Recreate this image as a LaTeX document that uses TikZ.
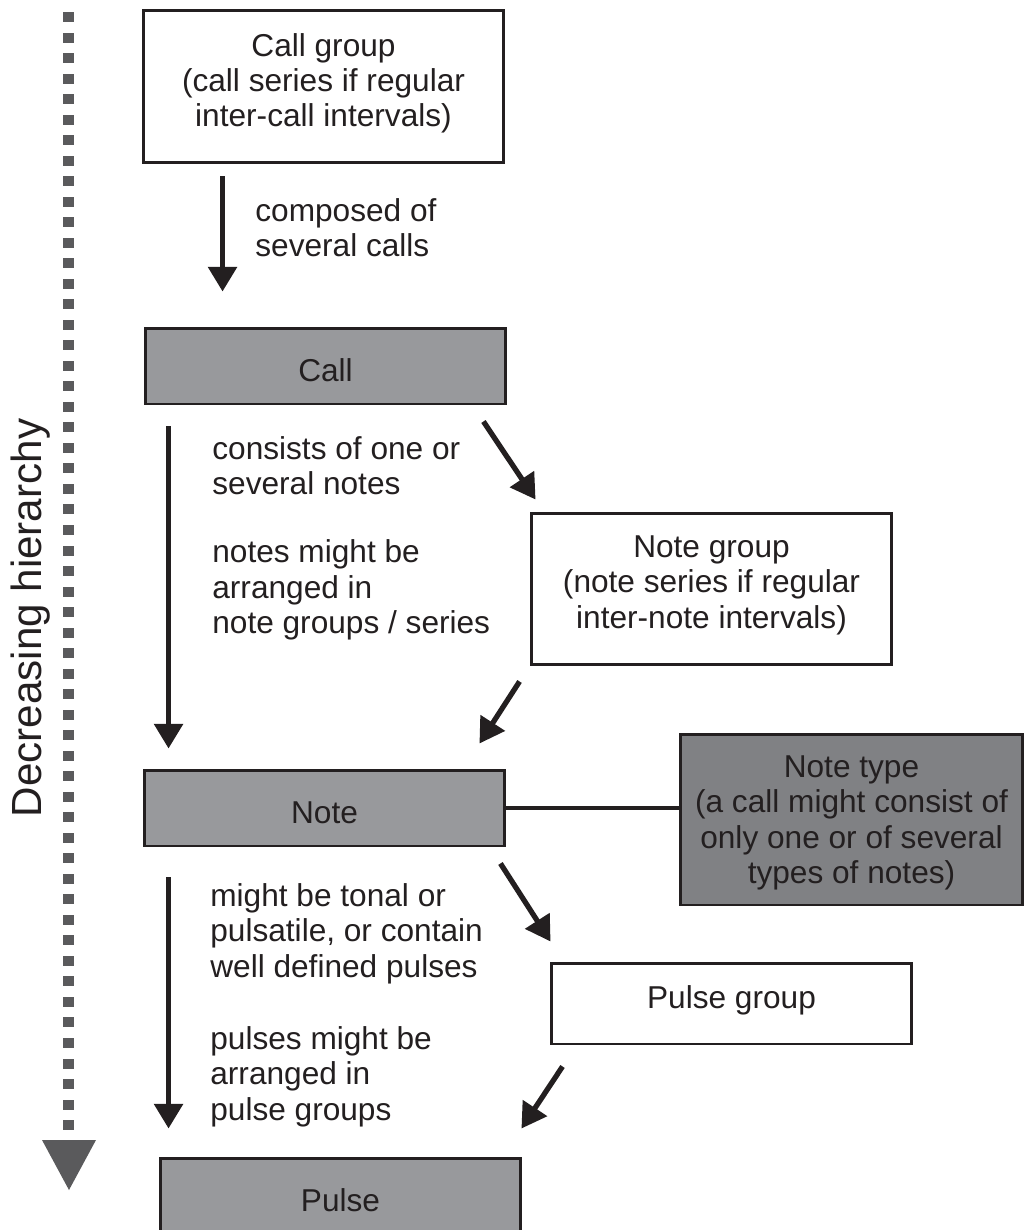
\documentclass[tikz,border=0pt]{standalone}
\usepackage{fontspec}
\setmainfont{Liberation Sans}
\usetikzlibrary{arrows.meta,positioning,calc}
\definecolor{ink}{HTML}{231F20}
\definecolor{boxgrey}{HTML}{98999C}
\definecolor{darkgrey}{HTML}{808184}
\definecolor{dotgrey}{HTML}{5A5A5C}

\begin{document}
\begin{tikzpicture}[x=0.02cm,y=-0.02cm,
    font=\fontsize{18}{20.1}\selectfont, text=ink,
    box/.style={draw=ink,line width=1.7pt,fill=white,align=center,inner sep=0pt,minimum width=7.22cm},
    greybox/.style={box,fill=boxgrey,text height=0.6cm,text depth=0pt},
    darkbox/.style={box,fill=darkgrey},
    arr/.style={draw=ink,line width=3pt,-{Triangle[width=16pt,length=14pt]}},
    lbl/.style={anchor=west,align=left,inner sep=0pt}]
    \useasboundingbox (0,0) rectangle (1027,1230);

    % hierarchy arrow on the left
    \foreach \i in {0,...,54}
        \fill[dotgrey] (63,{12+\i*20.52}) rectangle ++(11,10);
    \fill[dotgrey] (42,1140) -- (96,1140) -- (69,1190) -- cycle;
    \node[rotate=90,font=\fontsize{24}{28}\selectfont] (hier) at (31,618) {Decreasing hierarchy};

    % boxes
    \node[box,minimum height=3.06cm,text depth=0.26cm] (callgroup) at (323.5,86.5)
        {Call group\\(call series if regular\\inter-call intervals)};
    \node[greybox,minimum height=1.52cm] (call) at (325.5,366) {Call};
    \node[box,minimum height=3.04cm,text depth=0.28cm] (notegroup) at (711.5,589)
        {Note group\\(note series if regular\\inter-note intervals)};
    \node[greybox,minimum height=1.52cm] (note) at (324.5,808) {Note};
    \node[darkbox,minimum width=6.86cm,minimum height=3.42cm,text depth=0pt] (notetype) at (851.5,819.5)
        {Note type\\(a call might consist of\\only one or of several\\types of notes)};
    \node[box,minimum height=1.62cm,text depth=0.25cm] (pulsegroup) at (731.5,1003.5) {Pulse group};
    \node[greybox,minimum height=1.52cm] (pulse) at (340.5,1196) {Pulse};

    % connectors
    \draw[arr] ($(callgroup.south west)+(81,12)$) -- ($(call.north west)+(79,-35)$);
    \draw[arr] ($(call.south west)+(25,21)$) -- ($(note.north west)+(26,-20)$);
    \draw[arr] ($(call.south east)+(-24,16)$) -- ($(notegroup.north west)+(6,-12)$);
    \draw[arr] ($(notegroup.south west)+(-10,15)$) -- ($(note.north east)+(-27,-25)$);
    \draw[arr] ($(note.south west)+(26,30)$) -- ($(pulse.north west)+(10,-28)$);
    \draw[arr] ($(note.south east)+(-6,16)$) -- ($(pulsegroup.north west)+(1,-20)$);
    \draw[arr] ($(pulsegroup.south west)+(13,21)$) -- ($(pulse.north east)+(-1,-28)$);
    \draw[ink,line width=2.6pt] (note.east) -- (note.east -| notetype.west);

    % labels
    \node[lbl] (composed) at (255,228) {composed of\\several calls};
    \node[lbl] (consists) at (212,466) {consists of one or\\several notes};
    \node[lbl] (arranged) at (212,590) {notes might be\\arranged in\\note groups / series};
    \node[lbl] (tonal) at (210,933.5) {might be tonal or\\pulsatile, or contain\\well defined pulses};
    \node[lbl] (pulses) at (210,1076.5) {pulses might be\\arranged in\\pulse groups};
\end{tikzpicture}
\end{document}
